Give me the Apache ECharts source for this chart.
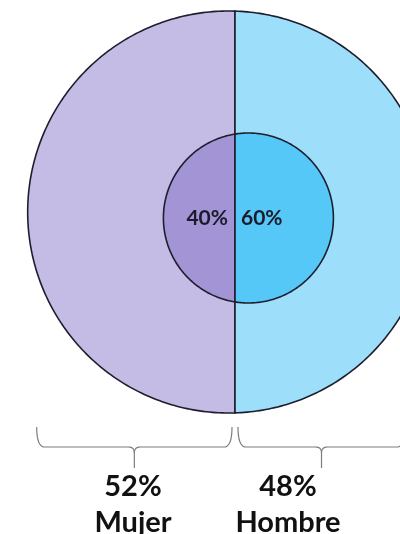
<!DOCTYPE html>
<html><head><meta charset="utf-8">
<script src="https://cdn.jsdelivr.net/npm/echarts@6/dist/echarts.min.js"></script>
<style>html,body{margin:0;padding:0;background:#fff}#c{width:400px;height:534px}</style>
</head><body><div id="c"></div>
<script>
// ---- data ----
const categories = ['Mujer', 'Hombre'];
const outerShare = [52, 48];
const innerShare = [40, 60];

// ---- style / layout ----
const outerColors = ['#c5bce6', '#9ddffb'];
const innerColors = ['#a394d6', '#56c8f8'];
const W = 400, H = 534, DIV_PX = 235, R_PX = 201, CY_PX = 212;
const INNER_R = 85 / R_PX, INNER_CY = -(218 - CY_PX) / R_PX;
const STROKE = '#1e1e2e';

// area fraction left of a vertical chord at signed offset t (unit circle)
function leftFrac(t) { return 1 - (Math.acos(t) - t * Math.sqrt(1 - t * t)) / Math.PI; }
function solveT(p) {
  let lo = -1, hi = 1;
  for (let i = 0; i < 60; i++) { const m = (lo + hi) / 2; if (leftFrac(m) < p) lo = m; else hi = m; }
  return (lo + hi) / 2;
}
function segment(api, idx, shares, r, cy) {
  const p = shares[0] / (shares[0] + shares[1]);
  const t = solveT(p), cx = -t * r, a = Math.acos(t);
  const a0 = idx === 0 ? a : -a, a1 = idx === 0 ? 2 * Math.PI - a : a;
  const pts = [];
  const n = 200;
  for (let k = 0; k <= n; k++) {
    const th = a0 + (a1 - a0) * k / n;
    pts.push(api.coord([cx + r * Math.cos(th), cy + r * Math.sin(th)]));
  }
  return { pts, cx };
}
function quad(p0, c, p1, n) {
  const out = [];
  for (let k = 0; k <= n; k++) {
    const s = k / n, u = 1 - s;
    out.push([u * u * p0[0] + 2 * u * s * c[0] + s * s * p1[0], u * u * p0[1] + 2 * u * s * c[1] + s * s * p1[1]]);
  }
  return out;
}
function brace(xa, xb, y0, y1, y2) {
  const xm = (xa + xb) / 2, rr = 8, tr = 6;
  const left = [].concat(
    quad([xa, y0], [xa, y1], [xa + rr, y1], 10),
    quad([xm - tr, y1], [xm, y1], [xm, y1 + tr], 8),
    [[xm, y2]]
  );
  const right = [].concat(
    quad([xb, y0], [xb, y1], [xb - rr, y1], 10),
    quad([xm + tr, y1], [xm, y1], [xm, y1 + tr], 8)
  );
  const st = { stroke: '#7d7d7d', lineWidth: 1.2, fill: null };
  return [{ type: 'polyline', shape: { points: left }, style: st },
          { type: 'polyline', shape: { points: right }, style: st }];
}

const chart = echarts.init(document.getElementById('c'), null, { renderer: 'canvas' });
chart.setOption({
  animation: false,
  backgroundColor: '#ffffff',
  grid: { left: 0, right: 0, top: 0, bottom: 0 },
  xAxis: { type: 'value', min: -DIV_PX / R_PX, max: (W - DIV_PX) / R_PX, show: false },
  yAxis: { type: 'value', min: CY_PX / R_PX - H / R_PX, max: CY_PX / R_PX, show: false },
  series: [
    {
      type: 'custom', z: 1, silent: true, clip: false,
      data: outerShare.map((v, i) => ({ name: categories[i], value: [i, v] })),
      renderItem: function (params, api) {
        const idx = params.dataIndex;
        const seg = segment(api, idx, outerShare, 1, 0);
        const divX = api.coord([0, 0])[0];
        const lEdge = api.coord([seg.cx - 1, 0])[0];
        const rEdge = api.coord([seg.cx + 1, 0])[0];
        const by = api.coord([seg.cx, -1])[1];
        const xa = idx === 0 ? lEdge + 9 : divX + 3;
        const xb = idx === 0 ? divX - 3 : Math.min(rEdge - 9, W + 5);
        const lx = idx === 0 ? divX - 102 : divX + 53;
        const font = 'bold 29px Lato';
        return {
          type: 'group',
          children: [
            { type: 'polygon', shape: { points: seg.pts }, style: { fill: outerColors[idx], stroke: STROKE, lineWidth: 1.6 } }
          ].concat(brace(xa, xb, by + 14, by + 34, by + 55)).concat([
            { type: 'text', x: lx, y: by + 74, style: { text: api.value(1) + '%', font: font, fill: '#111', align: 'center', verticalAlign: 'middle' } },
            { type: 'text', x: lx, y: by + 110, style: { text: categories[idx], font: font, fill: '#111', align: 'center', verticalAlign: 'middle' } }
          ])
        };
      }
    },
    {
      type: 'custom', z: 2, silent: true, clip: false,
      data: innerShare.map((v, i) => ({ name: categories[i], value: [i, v] })),
      renderItem: function (params, api) {
        const idx = params.dataIndex;
        const seg = segment(api, idx, innerShare, INNER_R, INNER_CY);
        const divX = api.coord([0, 0])[0];
        const cyPx = api.coord([0, INNER_CY])[1];
        return {
          type: 'group',
          children: [
            { type: 'polygon', shape: { points: seg.pts }, style: { fill: innerColors[idx], stroke: STROKE, lineWidth: 1.6 } },
            { type: 'text', x: idx === 0 ? divX - 7 : divX + 6, y: cyPx,
              style: { text: api.value(1) + '%', font: 'bold 21px Lato', fill: '#1b1b2b', align: idx === 0 ? 'right' : 'left', verticalAlign: 'middle' } }
          ]
        };
      }
    }
  ]
});
</script></body></html>
